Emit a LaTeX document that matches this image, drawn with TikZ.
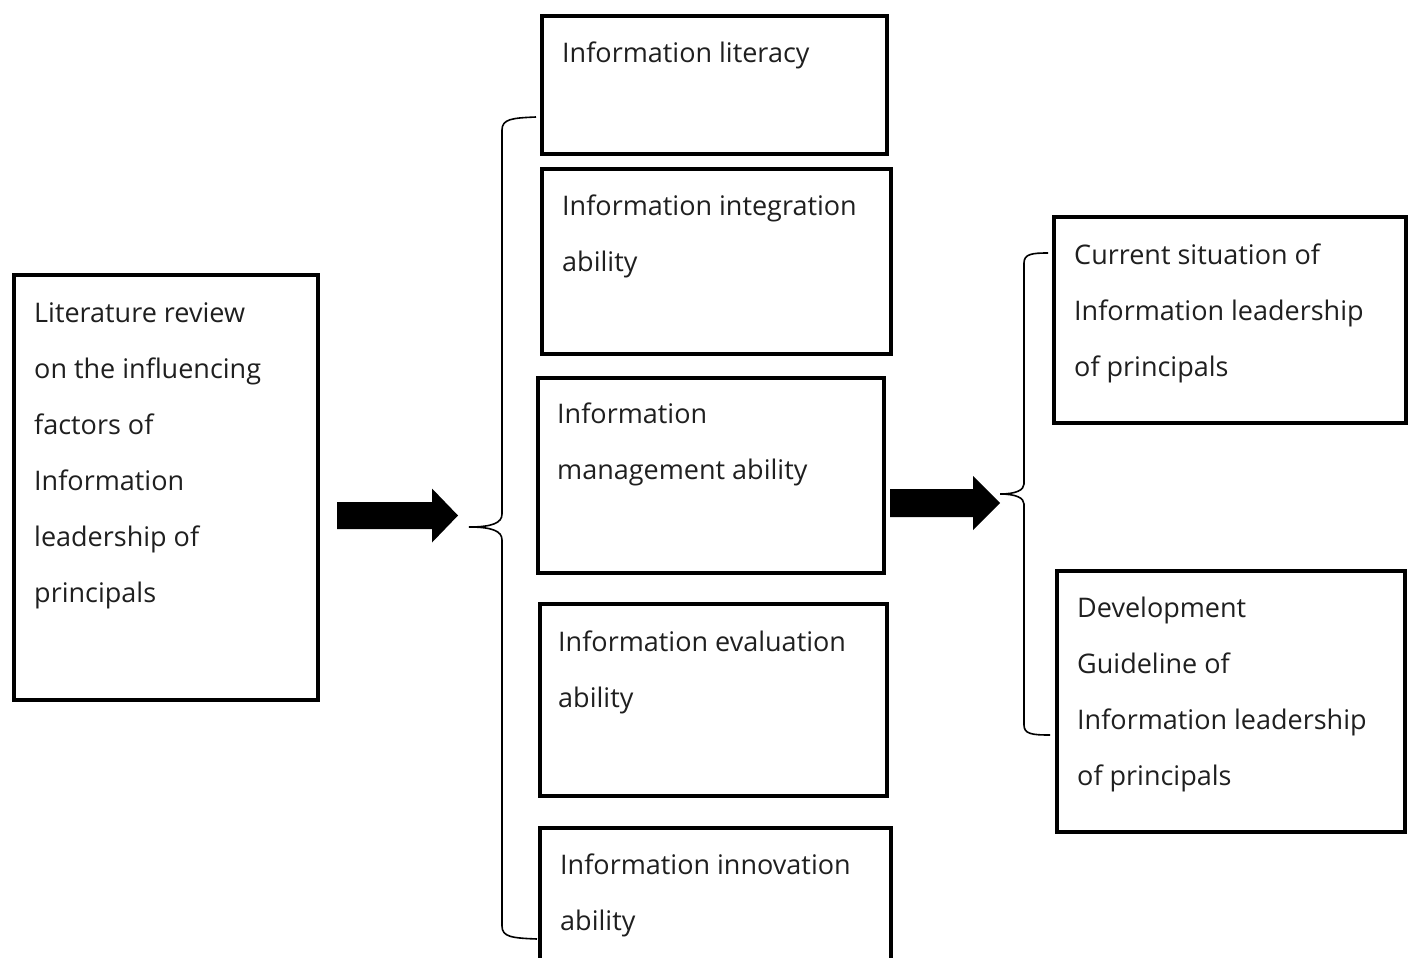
\documentclass[tikz,border=0pt]{standalone}
\usepackage{fontspec}
\setmainfont{Open Sans}
\begin{document}
\begin{tikzpicture}[x=1pt,y=-1pt,
  box/.style={draw=black,line width=4pt,inner sep=0pt,anchor=north west},
  txt/.style={anchor=north west,inner sep=0pt,align=left,text=black!88,
     font=\fontsize{27}{56}\selectfont},
  bigarrow/.style={fill=black,draw=none},
  brace/.style={draw=black,line width=1.6pt}]
\useasboundingbox (0,0) rectangle (1413,958);
% boxes
\node[box,minimum width=304pt,minimum height=425pt] (lit) at (12,273) {};
\node[box,minimum width=345pt,minimum height=138pt] (b1) at (540,14) {};
\node[box,minimum width=349pt,minimum height=185pt] (b2) at (540,167) {};
\node[box,minimum width=346pt,minimum height=195pt] (b3) at (536,376) {};
\node[box,minimum width=347pt,minimum height=192pt] (b4) at (538,602) {};
\node[box,minimum width=351pt,minimum height=160pt] (b5) at (538,826) {};
\node[box,minimum width=352pt,minimum height=206pt] (r1) at (1052,215) {};
\node[box,minimum width=348pt,minimum height=261pt] (r2) at (1055,569) {};
% texts
\def\st{\rule{0pt}{25pt}}
\node[txt] (tlit) at (34,297) {\st Literature review\\on the influencing\\factors of\\Information\\leadership of\\principals};
\node[txt] (tb1) at (562,37) {\st Information literacy};
\node[txt] (tb2) at (562,190) {\st Information integration\\ability};
\node[txt] (tb3) at (557,398) {\st Information\\management ability};
\node[txt] (tb4) at (558,626) {\st Information evaluation\\ability};
\node[txt] (tb5) at (560,849) {\st Information innovation\\ability};
\node[txt] (tr1) at (1074,239) {\st Current situation of\\Information leadership\\of principals};
\node[txt] (tr2) at (1077,592) {\st Development\\Guideline of\\Information leadership\\of principals};
% arrows
\coordinate (a1s) at (337,515.5);
\coordinate (a1t) at (458,515.5);
\fill[bigarrow] (337,502) -- (432,502) -- (432,488.5) -- (a1t) -- (432,542.5) -- (432,529) -- (337,529) -- cycle;
\coordinate (a2s) at (890,503);
\coordinate (a2t) at (1000,503);
\fill[bigarrow] (890,489) -- (973,489) -- (973,476) -- (a2t) -- (973,530) -- (973,517) -- (890,517) -- cycle;
% braces
\coordinate (br1top) at (536,117);
\coordinate (br1tip) at (469,527);
\coordinate (br1bot) at (537,939);
\draw[brace] (br1top) .. controls (512,118) and (502,119) .. (502,130) -- (502,514)
  .. controls (502,523) and (492,527) .. (br1tip)
  .. controls (492,527) and (502,531) .. (502,540) -- (502,926)
  .. controls (502,937) and (512,938) .. (br1bot);
\coordinate (br2top) at (1048,253);
\coordinate (br2tip) at (1000,494);
\coordinate (br2bot) at (1050,735);
\draw[brace] (br2top) .. controls (1032,253) and (1024,254) .. (1024,263) -- (1024,484)
  .. controls (1024,490) and (1016,494) .. (br2tip)
  .. controls (1016,494) and (1024,498) .. (1024,504) -- (1024,725)
  .. controls (1024,734) and (1032,735) .. (br2bot);
\end{tikzpicture}
\end{document}
